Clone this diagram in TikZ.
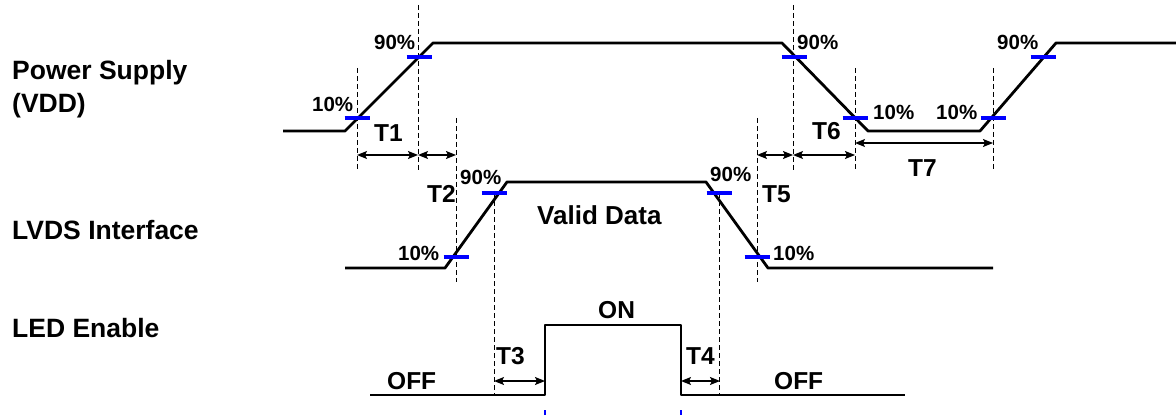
\documentclass[tikz,border=0pt]{standalone}
\usepackage{fontspec}
\setmainfont{Liberation Sans}
\usetikzlibrary{arrows.meta}
\newcommand\lblfont{\fontsize{26.5}{30}\selectfont\bfseries}
\newcommand\vdfont{\fontsize{26}{30}\selectfont\bfseries}
\newcommand\tfont{\fontsize{24.5}{29}\selectfont\bfseries}
\newcommand\pctfont{\fontsize{20.5}{24}\selectfont\bfseries}
\begin{document}
\begin{tikzpicture}[x=1pt,y=-1pt,
  sig/.style={line width=2.8pt, line join=round, black},
  tick/.style={line width=3.6pt, blue},
  guide/.style={line width=1pt, dash pattern=on 5pt off 3pt, black},
  bguide/.style={line width=1.2pt, dash pattern=on 5pt off 3pt, blue},
  dim/.style={line width=1.3pt, {Stealth[length=10pt,width=8pt,inset=2pt]}-{Stealth[length=10pt,width=8pt,inset=2pt]}},
  lbl/.style={inner sep=0pt, anchor=base west, font=\lblfont},
  tl/.style={inner sep=0pt, anchor=base west, font=\tfont},
  pct/.style={inner sep=0pt, anchor=base west, font=\pctfont}]
\path[use as bounding box, fill=white] (0,0) rectangle (1176,417);

% left labels
\node[lbl] (ps) at (12,80) {Power Supply};
\node[lbl] (vdd) at (12,113) {(VDD)};
\node[lbl] (lvds) at (12,240) {LVDS Interface};
\node[lbl] (led) at (12,337) {LED Enable};

% guide coordinates
\foreach \n/\x/\ya/\yb in {g1/357/68/170, g2/418/5/170, g3/456/118/282, g4/494/193/395,
  g5/719/193/395, g6/757/118/282, g7/793/5/170, g8/855/68/170, g9/993/68/170} {
  \coordinate (\n t) at (\x,\ya);
  \coordinate (\n b) at (\x,\yb);
  \draw[guide] (\n t) -- (\n b);
}
\coordinate (b1t) at (545,410); \coordinate (b1b) at (545,417);
\coordinate (b2t) at (681,410); \coordinate (b2b) at (681,417);
\draw[bguide] (b1t) -- (b1b);
\draw[bguide] (b2t) -- (b2b);

% signals
\draw[sig] (283,131) -- (345,131) -- (433,43) -- (782,43) -- (868,131) -- (980,131) -- (1056,43) -- (1176,43);
\draw[sig] (345,268) -- (445,268) -- (507,182) -- (706,182) -- (768,268) -- (993,268);
\draw[sig] (370,395) -- (545,395) -- (545,325) -- (681,325) -- (681,395) -- (905,395);

% blue ticks
\foreach \x/\y in {357/118, 419/57, 456/257, 494/193, 719/193, 757/257, 794/57, 855/118, 993/118, 1043/57}
  \draw[tick] (\x-12.5,\y) -- (\x+12.5,\y);

% dimension arrows
\coordinate (a1) at (357,155); \coordinate (a2) at (418,155); \coordinate (a3) at (456,155);
\coordinate (a5) at (757,155); \coordinate (a6) at (793,155); \coordinate (a7) at (855,155);
\coordinate (a8) at (855,143); \coordinate (a9) at (993,143);
\coordinate (c1) at (494,381); \coordinate (c2) at (545,381);
\coordinate (c3) at (681,381); \coordinate (c4) at (720,381);
\draw[dim] (a1) -- (a2);
\draw[dim] (a2) -- (a3);
\draw[dim] (a5) -- (a6);
\draw[dim] (a6) -- (a7);
\draw[dim] (a8) -- (a9);
\draw[dim] (c1) -- (c2);
\draw[dim] (c3) -- (c4);

% percent labels
\node[pct] (p1) at (312,112) {10\%};
\node[pct] (p2) at (374,50) {90\%};
\node[pct] (p3) at (398,260) {10\%};
\node[pct] (p4) at (460,185) {90\%};
\node[pct] (p5) at (710,182) {90\%};
\node[pct] (p6) at (773,260) {10\%};
\node[pct] (p7) at (797,50) {90\%};
\node[pct] (p8) at (873,120) {10\%};
\node[pct] (p9) at (936,120) {10\%};
\node[pct] (p10) at (997,50) {90\%};

% time labels
\node[tl] (t1) at (374,142) {T1};
\node[tl] (t2) at (427,202) {T2};
\node[tl] (t3) at (496,364) {T3};
\node[tl] (t4) at (686,364) {T4};
\node[tl] (t5) at (762,202) {T5};
\node[tl] (t6) at (812,140) {T6};
\node[tl] (t7) at (908,177) {T7};

\node[inner sep=0pt, anchor=base west, font=\vdfont] (vd) at (537,225) {Valid Data};
\node[tl] (on) at (598,318) {ON};
\node[tl] (off1) at (387,389) {OFF};
\node[tl] (off2) at (774,389) {OFF};
\end{tikzpicture}
\end{document}
